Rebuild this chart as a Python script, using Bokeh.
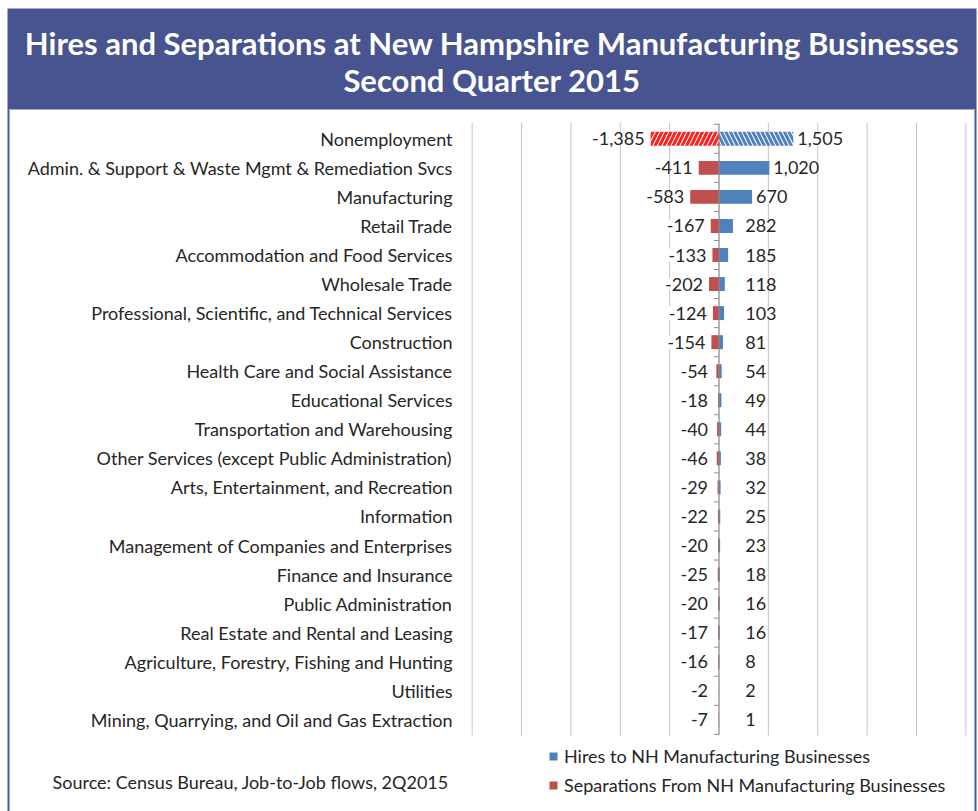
from bokeh.plotting import figure
from bokeh.models import Range1d, Legend, LegendItem, ColumnDataSource
from bokeh.core.properties import value
from bokeh.embed import file_html
from bokeh.resources import INLINE

# ---------------- data ----------------
categories = [
    "Nonemployment",
    "Admin. & Support & Waste Mgmt & Remediation Svcs",
    "Manufacturing",
    "Retail Trade",
    "Accommodation and Food Services",
    "Wholesale Trade",
    "Professional, Scientific, and Technical Services",
    "Construction",
    "Health Care and Social Assistance",
    "Educational Services",
    "Transportation and Warehousing",
    "Other Services (except Public Administration)",
    "Arts, Entertainment, and Recreation",
    "Information",
    "Management of Companies and Enterprises",
    "Finance and Insurance",
    "Public Administration",
    "Real Estate and Rental and Leasing",
    "Agriculture, Forestry, Fishing and Hunting",
    "Utilities",
    "Mining, Quarrying, and Oil and Gas Extraction",
]
hires = [1505, 1020, 670, 282, 185, 118, 103, 81, 54, 49, 44, 38, 32, 25, 23, 18, 16, 16, 8, 2, 1]
separations = [-1385, -411, -583, -167, -133, -202, -124, -154, -54, -18, -40, -46,
               -29, -22, -20, -25, -20, -17, -16, -2, -7]
hatched_categories = ["Nonemployment"]
x_gridlines = [-5000, -4000, -3000, -2000, -1000, 0, 1000, 2000, 3000, 4000, 5000]
title_lines = ["Hires and Separations at New Hampshire Manufacturing Businesses",
               "Second Quarter 2015"]
legend_labels = ["Hires to NH Manufacturing Businesses",
                 "Separations From NH Manufacturing Businesses"]
source_note = "Source: Census Bureau, Job-to-Job flows, 2Q2015"

# ---------------- styling / layout ----------------
FONT = "Lato"
NAVY = "#47548F"
EDGE = "#4A5A9C"
BLUE = "#4F81BD"
RED = "#C0504D"
HATCH_RED = "#FF1F1F"
TEXT = "#262626"
GRID = "#C4C4C4"
AXIS = "#8C8C8C"
FS = "18px"

W, H = 978, 811
# plot-area geometry (pixels): zero line, px per unit, first row centre, row pitch
X0, K = 718.5, 0.04937
Y_ROW0, PITCH = 138.3, 29.05


def dx(X):
    return (X - X0) / K


def dy(Y):
    return (Y - Y_ROW0) / PITCH


n = len(categories)
ys = list(range(n))

p = figure(width=W, height=H, output_backend="svg", toolbar_location=None,
           x_range=Range1d(dx(0), dx(W)), y_range=Range1d(dy(H), dy(0)),
           min_border=0, outline_line_color=None,
           background_fill_color="white", border_fill_color="white")
p.axis.visible = False
p.grid.visible = False

# header band and side borders
p.quad(left=dx(7), right=dx(976), top=dy(8), bottom=dy(109), fill_color=NAVY, line_color=None)
p.quad(left=[dx(7), dx(974)], right=[dx(9), dx(976)], top=dy(109), bottom=dy(H + 5),
       fill_color=EDGE, line_color=None)
for line, Y in zip(title_lines, [42, 79]):
    p.text(x=[dx(491.5)], y=[dy(Y)], text=[line], text_align="center", text_baseline="middle",
           text_font=value(FONT), text_font_style="bold", text_font_size="31px",
           text_color="white")

# vertical gridlines
p.segment(x0=x_gridlines, x1=x_gridlines, y0=[-0.55] * len(x_gridlines),
          y1=[n - 0.45] * len(x_gridlines), line_color=GRID, line_width=1)

is_h = [c in hatched_categories for c in categories]
plain = ColumnDataSource(dict(
    y=[y for y, h in zip(ys, is_h) if not h],
    hires=[v for v, h in zip(hires, is_h) if not h],
    sep=[v for v, h in zip(separations, is_h) if not h]))
hatch = ColumnDataSource(dict(
    y=[y for y, h in zip(ys, is_h) if h],
    hires=[v for v, h in zip(hires, is_h) if h],
    sep=[v for v, h in zip(separations, is_h) if h]))

BAR_H = 0.48
r_hire = p.hbar(y="y", left=0, right="hires", height=BAR_H, source=plain,
                fill_color=BLUE, line_color=None)
r_sep = p.hbar(y="y", left="sep", right=0, height=BAR_H, source=plain,
               fill_color=RED, line_color=None)
p.hbar(y="y", left=0, right="hires", height=BAR_H, source=hatch,
       fill_color="white", line_color=None, hatch_pattern="\\",
       hatch_color=BLUE, hatch_weight=3, hatch_scale=9)
p.hbar(y="y", left="sep", right=0, height=BAR_H, source=hatch,
       fill_color="white", line_color=None, hatch_pattern="/",
       hatch_color=HATCH_RED, hatch_weight=3, hatch_scale=9)

# category axis line at zero with boundary ticks
p.segment(x0=[0], x1=[0], y0=[-0.5], y1=[n - 0.5], line_color=AXIS, line_width=1)
bounds = [i - 0.5 for i in range(n + 1)]
tick_len = 5 / K
p.segment(x0=[-tick_len] * len(bounds), x1=[0] * len(bounds), y0=bounds, y1=bounds,
          line_color=AXIS, line_width=1)

# category labels
p.text(x=[dx(452)] * n, y=ys, text=categories, text_align="right", text_baseline="middle",
       text_font=value(FONT), text_font_size=FS, text_color=TEXT)

# data labels
fmt = lambda v: f"{v:,}"
lab = ColumnDataSource(dict(
    y=ys,
    hx=[max(v, 450) for v in hires],
    sx=[min(v, -100) for v in separations],
    ht=[fmt(v) for v in hires],
    st=[fmt(v) for v in separations]))
p.text(x="hx", y="y", text="ht", source=lab, x_offset=4, text_align="left",
       text_baseline="middle", text_font=value(FONT), text_font_size=FS,
       text_color=TEXT, background_fill_color="white")
p.text(x="sx", y="y", text="st", source=lab, x_offset=-6, text_align="right",
       text_baseline="middle", text_font=value(FONT), text_font_size=FS,
       text_color=TEXT, background_fill_color="white")

# source note
p.text(x=[dx(52)], y=[dy(781)], text=[source_note], text_align="left", text_baseline="middle",
       text_font=value(FONT), text_font_size=FS, text_color=TEXT)

legend = Legend(items=[LegendItem(label=legend_labels[0], renderers=[r_hire]),
                       LegendItem(label=legend_labels[1], renderers=[r_sep])],
                location=(548, H - 796), orientation="vertical",
                glyph_width=10, glyph_height=10, label_height=20, spacing=7,
                label_standoff=6, padding=0, margin=0,
                label_text_font=FONT, label_text_font_size=FS,
                label_text_color=TEXT, background_fill_alpha=0,
                border_line_color=None)
p.add_layout(legend, "center")

open("out.html", "w").write(file_html(p, INLINE))
